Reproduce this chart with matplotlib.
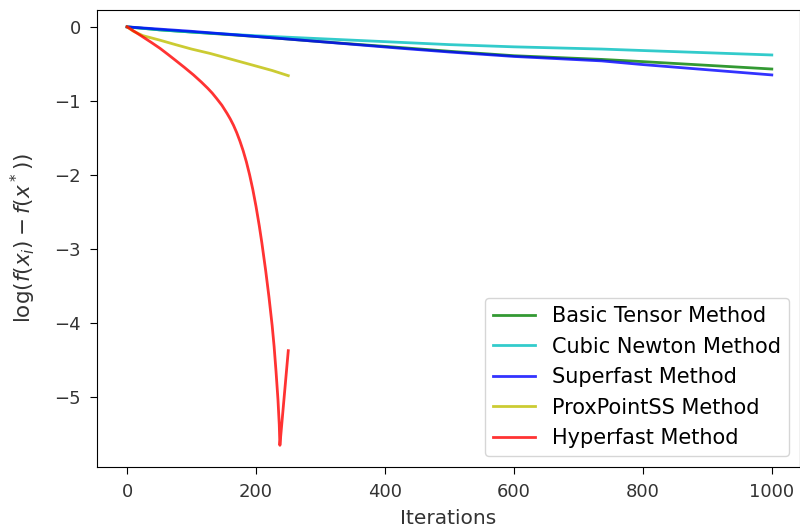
import matplotlib
matplotlib.use("Agg")
import matplotlib.pyplot as plt

# values
iters_long = [0, 50, 100, 200, 300, 425, 500, 600, 736, 800, 900, 1000]
basic_tensor = [0, -0.04, -0.07, -0.13, -0.2, -0.28, -0.33, -0.39, -0.44, -0.47, -0.52, -0.57]
cubic_newton = [0, -0.04, -0.07, -0.12, -0.16, -0.21, -0.24, -0.27, -0.30, -0.32, -0.35, -0.38]
superfast = [0, -0.03, -0.06, -0.13, -0.2, -0.29, -0.34, -0.40, -0.46, -0.51, -0.58, -0.65]

iters_prox = [0, 10, 25, 51, 75, 100, 129, 150, 175, 200, 225, 250]
prox_point = [0, -0.06, -0.12, -0.18, -0.24, -0.30, -0.36, -0.41, -0.47, -0.53, -0.59, -0.66]

iters_hyper = [0, 12, 25, 38, 51, 63, 75, 89, 103, 115, 125, 132, 139, 147, 155, 160, 165,
               170, 175, 180, 185, 190, 195, 200, 205, 209, 215, 220, 225, 228, 231, 234,
               236, 237, 250]
hyperfast = [0, -0.066, -0.139, -0.213, -0.29, -0.37, -0.452, -0.549, -0.65, -0.745, -0.83,
             -0.895, -0.97, -1.06, -1.17, -1.245, -1.33, -1.43, -1.545, -1.675, -1.825,
             -2.0, -2.2, -2.43, -2.69, -2.92, -3.3, -3.65, -4.04, -4.32, -4.66, -5.04,
             -5.38, -5.66, -4.38]

fig, ax = plt.subplots(figsize=(8.0, 5.28), dpi=100)
ax.plot(iters_long, basic_tensor, color="g", alpha=0.8, linewidth=2, label="Basic Tensor Method")
ax.plot(iters_long, cubic_newton, color="c", alpha=0.8, linewidth=2, label="Cubic Newton Method")
ax.plot(iters_long, superfast, color="b", alpha=0.8, linewidth=2, label="Superfast Method")
ax.plot(iters_prox, prox_point, color="y", alpha=0.8, linewidth=2, label="ProxPointSS Method")
ax.plot(iters_hyper, hyperfast, color="r", alpha=0.8, linewidth=2, label="Hyperfast Method")

ax.set_xlim(-47, 1043)
ax.set_ylim(-5.95, 0.235)
ax.set_xlabel("Iterations", fontsize=14.5, color="#333333", labelpad=6)
ax.set_ylabel(r"$\log(f(x_i) - f(x^*))$", fontsize=15.5, color="#333333", labelpad=12)
ax.tick_params(labelsize=13, length=5, pad=6.5, labelcolor="#333333")
ax.legend(loc="lower right", fontsize=15)
fig.subplots_adjust(left=0.121, right=0.9994, bottom=0.116, top=0.982)
fig.savefig("out.png", dpi=100)
